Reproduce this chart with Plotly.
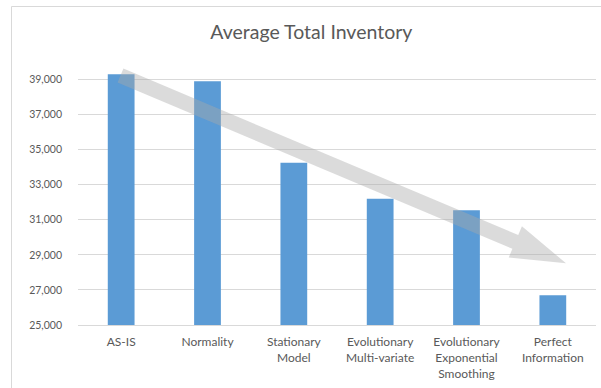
import plotly.graph_objects as go
import math

categories = ["AS-IS", "Normality", "Stationary<br>Model", "Evolutionary<br>Multi-variate",
              "Evolutionary<br>Exponential<br>Smoothing", "Perfect<br>Information"]
values = [39300, 38900, 34250, 32200, 31550, 26700]
tick_vals = [25000, 27000, 29000, 31000, 33000, 35000, 37000, 39000]
tick_text = ["25,000", "27,000", "29,000", "31,000", "33,000", "35,000", "37,000", "39,000"]

W, H = 601, 388
ML, MR, MT, MB = 78, 5, 62, 63
PW, PH = W - ML - MR, H - MT - MB

def px2paper(x, y):
    return (x - ML) / PW, (H - MB - y) / PH

# decorative trend arrow (pixel geometry -> paper)
tail = (120.5, 75.5)
tip = (566.0, 263.3)
dx, dy = tip[0] - tail[0], tip[1] - tail[1]
ln = math.hypot(dx, dy)
u = (dx / ln, dy / ln)
n = (-u[1], u[0])
w, hl, hw = 7.5, 55.0, 17.0
B = (tip[0] - hl * u[0], tip[1] - hl * u[1])
pts = [
    (tail[0] - w * n[0], tail[1] - w * n[1]),
    (B[0] - w * n[0], B[1] - w * n[1]),
    (B[0] - hw * n[0], B[1] - hw * n[1]),
    tip,
    (B[0] + hw * n[0], B[1] + hw * n[1]),
    (B[0] + w * n[0], B[1] + w * n[1]),
    (tail[0] + w * n[0], tail[1] + w * n[1]),
]
path = "M " + " L ".join("%.5f,%.5f" % px2paper(*p) for p in pts) + " Z"

fig = go.Figure(go.Bar(
    x=categories, y=values,
    marker=dict(color="#5B9BD5", line=dict(width=0)),
    width=0.31,
))

bx0, by1 = px2paper(11.5, 6.5)
bx1, by0 = px2paper(620, 420)

fig.update_layout(
    width=W, height=H,
    margin=dict(l=ML, r=MR, t=MT, b=MB),
    paper_bgcolor="white", plot_bgcolor="white",
    font=dict(family="Lato", color="#595959", size=11),
    title=dict(text="Average Total Inventory", x=0.518, xanchor="center",
               y=1 - 32 / H, yanchor="middle",
               font=dict(family="Lato", size=19.5, color="#595959")),
    showlegend=False,
    xaxis=dict(showgrid=False, showline=True, linecolor="#d9d9d9", linewidth=1,
               ticks="", ticklabelstandoff=6,
               tickfont=dict(size=12, color="#595959"), fixedrange=True),
    yaxis=dict(range=[25000, 40000], tickvals=tick_vals, ticktext=tick_text,
               showgrid=True, gridcolor="#d9d9d9", gridwidth=1, zeroline=False,
               showline=False, ticks="", ticklabelstandoff=15,
               tickfont=dict(size=10.5, color="#595959")),
    shapes=[
        dict(type="path", path=path, xref="paper", yref="paper",
             fillcolor="rgba(170,170,170,0.42)", line=dict(width=0), layer="above"),
        dict(type="rect", xref="paper", yref="paper", x0=bx0, x1=bx1, y0=by0, y1=by1,
             line=dict(color="#d9d9d9", width=1), fillcolor="rgba(0,0,0,0)", layer="below"),
    ],
)

fig.write_html("out.html")
